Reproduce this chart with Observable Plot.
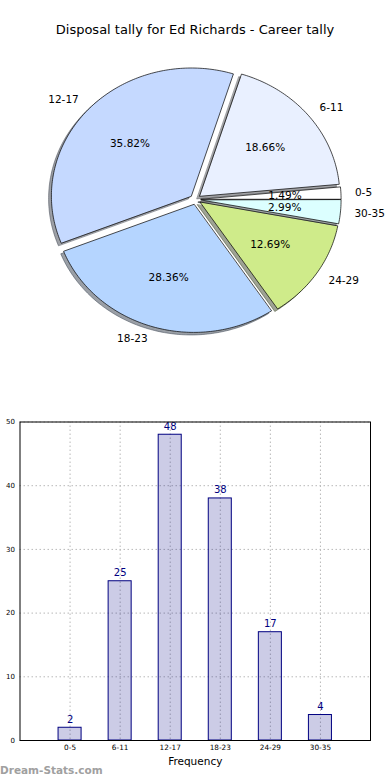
<!DOCTYPE html>
<html><head><meta charset="utf-8">
<script src="https://cdn.jsdelivr.net/npm/d3@7"></script>
<script src="https://cdn.jsdelivr.net/npm/@observablehq/plot@0.6"></script>
<style>
body{margin:0;background:#fff;font-family:"DejaVu Sans",sans-serif;}
#wrap{position:relative;width:390px;height:780px;overflow:hidden;}
#title{position:absolute;left:0;top:23px;width:390px;text-align:center;font-size:13px;line-height:13px;color:#000;}
#pie{position:absolute;left:0;top:45px;}
#bar{position:absolute;left:0;top:410px;}
#wm{position:absolute;left:0;top:765px;font-size:10.5px;font-weight:bold;color:#a0a0a0;line-height:11px;}
</style></head><body>
<div id="wrap">
<div id="title">Disposal tally for Ed Richards - Career tally</div>
<div id="pie"></div>
<div id="bar"></div>
<div id="wm">Dream-Stats.com</div>
</div>
<script>
const categories = ["0-5","6-11","12-17","18-23","24-29","30-35"];
const counts = [2,25,48,38,17,4];
const pieColors = ["#ffffff","#e9f0ff","#c5d9ff","#b5d5ff","#cfeb8a","#dcffff"];
const yTicks = [0,10,20,30,40,50];

const explode = 0.04, labelDist = 1.1, pctDist = 0.6, shadowOff = 0.02;
const total = d3.sum(counts);

// pie geometry from the data (unit radius; ellipse comes from scales)
const wedges = [], shadows = [], catLabels = [], pctLabels = [];
let cum = 0;
categories.forEach((cat, i) => {
  const a0 = 2*Math.PI*cum/total;
  cum += counts[i];
  const a1 = 2*Math.PI*cum/total;
  const mid = (a0 + a1)/2;
  const cx = explode*Math.cos(mid), cy = explode*Math.sin(mid);
  const n = Math.max(2, Math.ceil((a1 - a0)/(Math.PI/180)));
  const pts = [{x: cx, y: cy}];
  for (let k = 0; k <= n; k++) {
    const t = a0 + (a1 - a0)*k/n;
    pts.push({x: cx + Math.cos(t), y: cy + Math.sin(t)});
  }
  const c = d3.rgb(pieColors[i]);
  const dark = d3.rgb(c.r*0.3, c.g*0.3, c.b*0.3).formatHex();
  pts.forEach(p => {
    wedges.push({cat, x: p.x, y: p.y, color: pieColors[i]});
    shadows.push({cat, x: p.x - shadowOff, y: p.y - shadowOff, color: dark});
  });
  catLabels.push({text: cat, x: cx + labelDist*Math.cos(mid), y: cy + labelDist*Math.sin(mid)});
  pctLabels.push({text: (100*counts[i]/total).toFixed(2) + "%", x: cx + pctDist*Math.cos(mid), y: cy + pctDist*Math.sin(mid)});
});

const rx = 140, ry = 128, pieW = 390, pieH = 300, pcx = 195, pcy = 154;
const pie = Plot.plot({
  width: pieW, height: pieH, margin: 0,
  style: {fontFamily: "DejaVu Sans", fontSize: "10.5px", background: "transparent", color: "#000"},
  x: {domain: [-pcx/rx, (pieW - pcx)/rx], axis: null},
  y: {domain: [-(pieH - pcy)/ry, pcy/ry], axis: null},
  color: {type: "identity"},
  marks: [
    Plot.line(shadows, {x: "x", y: "y", z: "cat", fill: "color", fillOpacity: 0.5, stroke: "color", strokeOpacity: 0.5, strokeWidth: 1, curve: "linear-closed"}),
    Plot.line(wedges, {x: "x", y: "y", z: "cat", fill: "color", stroke: "#000", strokeWidth: 0.7, curve: "linear-closed"}),
    Plot.text(pctLabels, {x: "x", y: "y", text: "text", fontSize: 10.5, fill: "#000"}),
    Plot.text(catLabels, {filter: d => d.x >= 0, x: "x", y: "y", text: "text", textAnchor: "start", fontSize: 10.5, fill: "#000"}),
    Plot.text(catLabels, {filter: d => d.x < 0, x: "x", y: "y", text: "text", textAnchor: "end", fontSize: 10.5, fill: "#000"})
  ]
});
document.getElementById("pie").appendChild(pie);

const barData = categories.map((cat, i) => ({cat, value: counts[i]}));
const bar = Plot.plot({
  width: 390, height: 370, marginTop: 11.5, marginBottom: 40, marginLeft: 19.5, marginRight: 20,
  style: {fontFamily: "DejaVu Sans", fontSize: "7px", background: "transparent", color: "#000"},
  x: {domain: categories, paddingInner: 0.54, paddingOuter: 0.77, round: false},
  y: {domain: [0, 50]},
  marks: [
    Plot.gridX({stroke: "#b8b8b8", strokeOpacity: 1, strokeDasharray: "1.5,2.5"}),
    Plot.gridY(yTicks, {stroke: "#b8b8b8", strokeOpacity: 1, strokeDasharray: "1.5,2.5"}),
    Plot.barY(barData, {x: "cat", y: "value", fill: "#000080", fillOpacity: 0.2, stroke: "#000080", strokeWidth: 1}),
    Plot.text(barData, {x: "cat", y: "value", text: d => String(d.value), lineAnchor: "bottom", dy: -5, fill: "#000080", fontSize: 10}),
    Plot.axisY(yTicks, {tickSize: 0, tickPadding: 5, fontSize: 7, label: null}),
    Plot.axisX({tickSize: 0, tickPadding: 4, fontSize: 7.3, label: "Frequency", labelAnchor: "center", labelOffset: 24, labelArrow: "none"}),
    Plot.frame({stroke: "#000", strokeWidth: 1})
  ]
});
bar.querySelectorAll("[aria-label='x-axis label'] text, [aria-label='x-axis label']").forEach(el => el.setAttribute("font-size", "10.5"));
document.getElementById("bar").appendChild(bar);
</script>
</body></html>
